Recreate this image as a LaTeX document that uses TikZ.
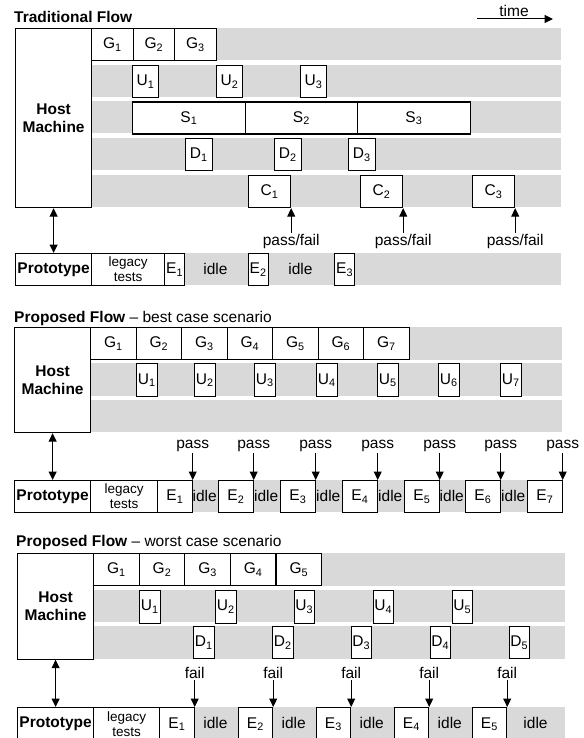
\documentclass[tikz,border=0pt]{standalone}
\usepackage{fontspec}
\setmainfont{Liberation Sans}
\usetikzlibrary{arrows.meta}

\begin{document}
\begin{tikzpicture}[
    x=1pt,y=-1pt,
    font=\fontsize{15.5}{18}\selectfont,
    box/.style={draw,fill=white,line width=1.2pt,inner sep=0pt,align=center,anchor=north west,minimum height=32pt},
    row/.style={fill=black!15},
    small/.style={font=\fontsize{13.5}{15}\selectfont},
    title/.style={anchor=west,inner sep=0pt},
    lbl/.style={inner sep=1pt},
    arr/.style={-{Triangle[length=8.5pt,width=8pt]},line width=1pt},
    dbl/.style={{Triangle[length=8.5pt,width=8pt]}-{Triangle[length=8.5pt,width=8pt]},line width=1.3pt}
]
\useasboundingbox (0,0) rectangle (583,738);

% traditional flow
\node[title] (ttitle) at (14,17) {\textbf{Traditional Flow}};
\node[lbl,anchor=south] (time) at (514,18) {time};
\coordinate (t0) at (477,19);
\coordinate (t1) at (553,19);
\draw[arr] (t0) -- (t1);
\foreach \y in {28,65,101.5,138,175} \fill[row] (91,\y) rectangle (561,\y+32);
\node[box,minimum width=76pt,minimum height=179pt] (thost) at (15,28) {\textbf{Host}\\\textbf{Machine}};
\foreach \x [count=\i] in {91,132.5,174}
    \node[box,minimum width=41.5pt] (tg\i) at (\x,28) {G\textsubscript{\i}};
\foreach \x [count=\i] in {132,216,300}
    \node[box,minimum width=26pt] (tu\i) at (\x,65) {U\textsubscript{\i}};
\foreach \x [count=\i] in {132,244.5,357}
    \node[box,minimum width=112.5pt] (ts\i) at (\x,101.5) {S\textsubscript{\i}};
\foreach \x [count=\i] in {185,274,348}
    \node[box,minimum width=26.5pt] (td\i) at (\x,138) {D\textsubscript{\i}};
\foreach \x [count=\i] in {248,360,472} {
    \node[box,minimum width=42pt] (tc\i) at (\x,175) {C\textsubscript{\i}};
    \path (tc\i.south east) ++(0,33) node[lbl] (tpf\i) {pass/fail};
    \draw[arr] (tpf\i) -- (tc\i.south east);
}
\fill[row] (164,253) rectangle (561,285);
\node[box,minimum width=76pt] (tproto) at (15,253) {\textbf{Prototype}};
\node[box,small,minimum width=73pt] (tlegacy) at (91,253) {legacy\\tests};
\foreach \x [count=\i] in {164,247.5,334}
    \node[box,minimum width=20pt] (te\i) at (\x,253) {E\textsubscript{\i}};
\node (tidle1) at (215.5,269) {idle};
\node (tidle2) at (300.5,269) {idle};
\draw[dbl] (thost) -- (tproto);

% proposed flow, best case
\node[title] (btitle) at (14,318) {\textbf{Proposed Flow} -- best case scenario};
\foreach \y in {327,363,399.5} \fill[row] (90,\y) rectangle (561.5,\y+32.5);
\node[box,minimum width=76pt,minimum height=105pt] (bhost) at (14,327) {\textbf{Host}\\\textbf{Machine}};
\foreach \i in {1,...,7}
    \node[box,minimum width=45.5pt] (bg\i) at ({90+45.5*(\i-1)},327) {G\textsubscript{\i}};
\foreach \x [count=\i] in {136,194,254,316,377,438,500}
    \node[box,minimum width=20.5pt,minimum height=33pt] (bu\i) at (\x,363) {U\textsubscript{\i}};
\fill[row] (157,480) rectangle (561.5,512);
\node[box,minimum width=76pt] (bproto) at (14,480) {\textbf{Prototype}};
\node[box,small,minimum width=67pt] (blegacy) at (90,480) {legacy\\tests};
\foreach \x [count=\i] in {157,218,280,342,404,465,527} {
    \node[box,minimum width=34.5pt] (be\i) at (\x,480) {E\textsubscript{\i}};
    \path (be\i.north east) ++(0,-34) node[lbl] (bp\i) {pass};
    \draw[arr] (bp\i) -- (be\i.north east);
}
\foreach \x [count=\i] in {204.75,266.25,328.25,390.25,451.75,513.25}
    \node[inner sep=0pt] (bidle\i) at (\x,496) {idle};
\draw[dbl] (bhost) -- (bproto);

% proposed flow, worst case
\node[title] (wtitle) at (16,542) {\textbf{Proposed Flow} -- worst case scenario};
\foreach \y in {553,589.5,626} \fill[row] (93,\y) rectangle (565,\y+32.5);
\node[box,minimum width=76pt,minimum height=105.5pt] (whost) at (17,553) {\textbf{Host}\\\textbf{Machine}};
\foreach \i in {1,...,5}
    \node[box,minimum width=45.6pt] (wg\i) at ({93+45.6*(\i-1)},553) {G\textsubscript{\i}};
\foreach \x [count=\i] in {139,215,293.5,372.5,451.5}
    \node[box,minimum width=20.5pt,minimum height=33pt] (wu\i) at (\x,589.5) {U\textsubscript{\i}};
\foreach \x [count=\i] in {193,272,350.5,429.5,508.5}
    \node[box,minimum width=20.5pt] (wd\i) at (\x,626) {D\textsubscript{\i}};
\fill[row] (159,707) rectangle (565,740);
\node[box,minimum width=76pt,minimum height=33pt] (wproto) at (17,707) {\textbf{Prototype}};
\node[box,small,minimum width=66pt,minimum height=33pt] (wlegacy) at (93,707) {legacy\\tests};
\foreach \x [count=\i] in {159,237.5,315.5,393.5,471.5} {
    \node[box,minimum width=34.5pt,minimum height=33pt] (we\i) at (\x,707) {E\textsubscript{\i}};
    \path (we\i.north east) ++(0,-34) node[lbl] (wf\i) {fail};
    \draw[arr] (wf\i) -- (we\i.north east);
}
\foreach \x [count=\i] in {215.5,293.75,371.75,449.75,535.5}
    \node (widle\i) at (\x,723) {idle};
\draw[dbl] (whost) -- (wproto);
\end{tikzpicture}
\end{document}
